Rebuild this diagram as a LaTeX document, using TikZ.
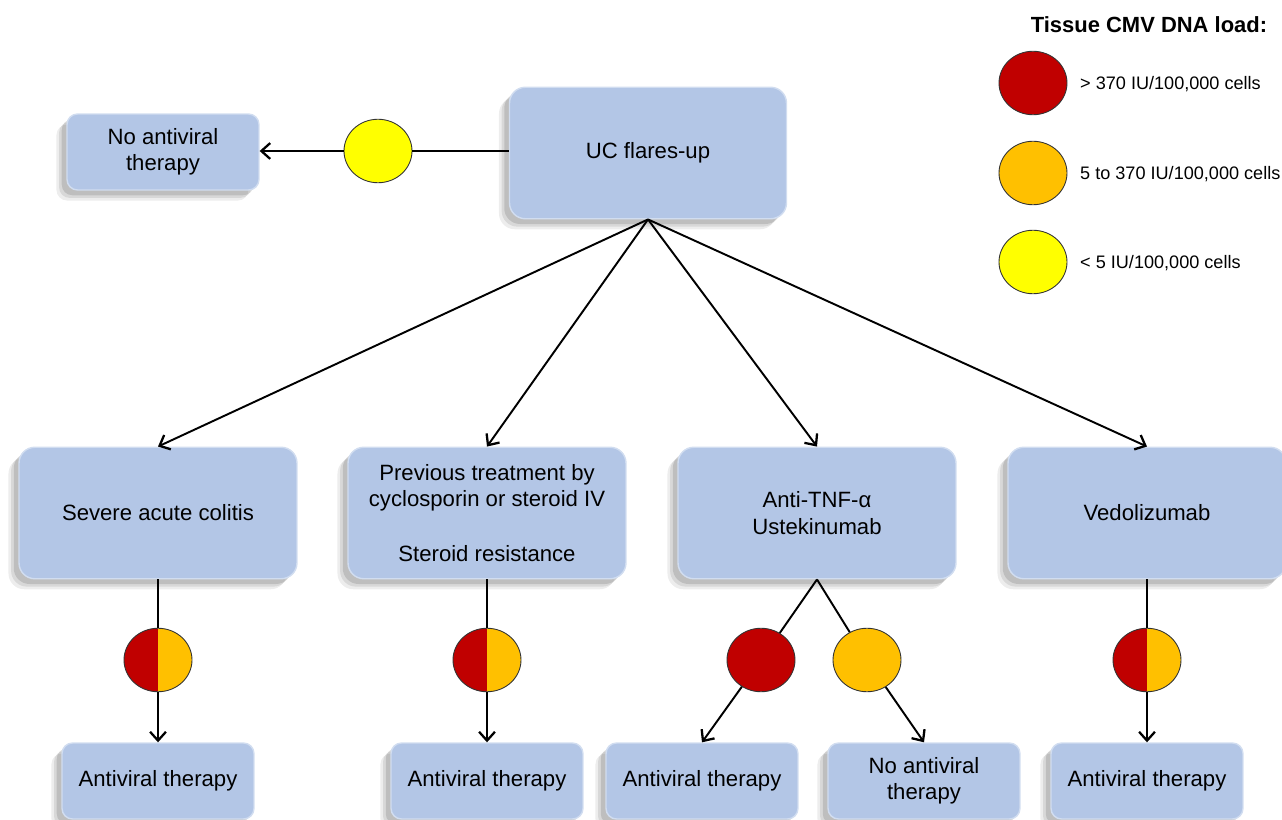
\documentclass[tikz,border=0pt]{standalone}
\usepackage{fontspec}
\setmainfont{Liberation Sans}
\usetikzlibrary{arrows.meta,shapes.geometric,shadows}
\definecolor{boxblue}{HTML}{B3C6E6}
\definecolor{loadred}{HTML}{C00000}
\definecolor{loadorange}{HTML}{FFC000}
\definecolor{loadyellow}{HTML}{FFFF00}
\tikzset{
    box/.style={rounded corners=9pt, fill=boxblue, draw=boxblue!60!white,
                line width=0.8pt, align=center, inner sep=4pt,
                font=\fontsize{12.6}{15}\selectfont,
                drop shadow={shadow xshift=-6pt, shadow yshift=-6pt,
                             fill=black, opacity=0.07},
                drop shadow={shadow xshift=-4.5pt, shadow yshift=-4.5pt,
                             fill=black, opacity=0.09},
                drop shadow={shadow xshift=-3pt, shadow yshift=-3pt,
                             fill=black, opacity=0.12}},
    bigbox/.style={box, minimum width=5.56cm, minimum height=2.63cm},
    smallbox/.style={box, rounded corners=6pt, minimum width=3.84cm, minimum height=1.52cm},
    load/.style={ellipse, draw=black!80, line width=0.5pt,
                 minimum width=1.36cm, minimum height=1.27cm, inner sep=0pt},
    splitload/.style={load, path picture={
        \fill[loadred] (path picture bounding box.south west)
            rectangle (path picture bounding box.north);
        \fill[loadorange] (path picture bounding box.south)
            rectangle (path picture bounding box.north east);}},
    flow/.style={-{Straight Barb[length=5pt, width=9pt, line width=1.3pt]}, line width=1.1pt},
    link/.style={line width=1.1pt},
    legend/.style={anchor=west, font=\fontsize{10.3}{12}\selectfont},
}

\begin{document}
\begin{tikzpicture}[x=0.02cm, y=-0.02cm]
    \useasboundingbox (0,0) rectangle (1282,820);

    % top row
    \node[bigbox, minimum width=5.54cm] (flare) at (648,153) {UC flares-up};
    \node[smallbox] (noneTop) at (163,152) {No antiviral\\therapy};
    \node[load, fill=loadyellow] (lowTop) at (378,151) {};
    \draw[link] (flare.west |- lowTop) -- (lowTop);
    \draw[flow] (lowTop) -- (noneTop.east |- lowTop);

    % situations
    \node[bigbox] (colitis) at (158,513) {Severe acute colitis};
    \node[bigbox] (previous) at (487,513) {Previous treatment by\\cyclosporin or steroid IV\\[16pt]Steroid resistance};
    \node[bigbox] (antitnf) at (817,513) {Anti-TNF-α\\Ustekinumab};
    \node[bigbox] (vedo) at (1147,513) {Vedolizumab};
    \foreach \target in {colitis,previous,antitnf,vedo}
        \draw[flow] (flare.south) -- (\target.north);

    % loads and decisions
    \node[splitload] (loadColitis) at (158,660) {};
    \node[splitload] (loadPrevious) at (487,660) {};
    \node[load, fill=loadred] (highTnf) at (761,660) {};
    \node[load, fill=loadorange] (midTnf) at (867,660) {};
    \node[splitload] (loadVedo) at (1147,660) {};

    \node[smallbox] (treatColitis) at (158,781) {Antiviral therapy};
    \node[smallbox] (treatPrevious) at (487,781) {Antiviral therapy};
    \node[smallbox] (treatTnf) at (702,781) {Antiviral therapy};
    \node[smallbox] (noneTnf) at (924,781) {No antiviral\\therapy};
    \node[smallbox] (treatVedo) at (1147,781) {Antiviral therapy};

    \draw[link] (colitis.south) -- (loadColitis);
    \draw[flow] (loadColitis) -- (treatColitis.north);
    \draw[link] (previous.south) -- (loadPrevious);
    \draw[flow] (loadPrevious) -- (treatPrevious.north);
    \draw[link] (antitnf.south) -- (highTnf);
    \draw[link] (antitnf.south) -- (midTnf);
    \draw[flow] (highTnf) -- (treatTnf.north);
    \draw[flow] (midTnf) -- (noneTnf.north);
    \draw[link] (vedo.south) -- (loadVedo);
    \draw[flow] (loadVedo) -- (treatVedo.north);

    % legend
    \node[font=\fontsize{12.5}{15}\selectfont\bfseries] (legendTitle) at (1149,25) {Tissue CMV DNA load:};
    \node[load, fill=loadred] (keyHigh) at (1033,83) {};
    \node[load, fill=loadorange] (keyMid) at (1033,173) {};
    \node[load, fill=loadyellow] (keyLow) at (1033,262) {};
    \node[legend] (labelHigh) at (1074,84) {> 370 IU/100,000 cells};
    \node[legend] (labelMid) at (1074,174) {5 to 370 IU/100,000 cells};
    \node[legend] (labelLow) at (1074,263) {< 5 IU/100,000 cells};

\end{tikzpicture}
\end{document}
